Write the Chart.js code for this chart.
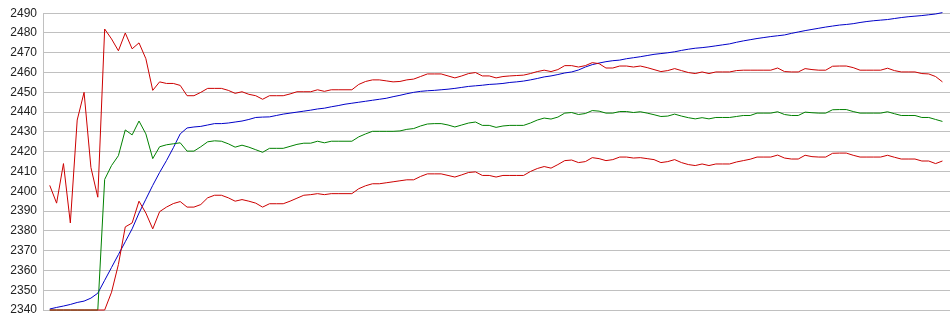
<!DOCTYPE html>
<html>
<head>
<meta charset="UTF-8">
<title>Bands</title>
<script src="https://cdn.jsdelivr.net/npm/chart.js"></script>
<style>
    html, body { margin: 0; padding: 0; background: #fff; }
    #wrap { width: 950px; height: 335px; }
</style>
</head>
<body>
<div id="wrap"><canvas id="chart"></canvas></div>
<script>
// y axis range and tick step
const yMin = 2340;
const yMax = 2490;
const yStep = 10;

// blue line (rising average)
const blueLine = [
    2340.5, 2341.3, 2342, 2342.8, 2343.8, 2344.5, 2346, 2348.5, 2355, 2361.5,
    2368, 2374.5, 2381, 2389, 2396, 2403, 2409.5, 2415.5, 2422, 2429,
    2432, 2432.5, 2432.8, 2433.5, 2434.2, 2434.2, 2434.5, 2435, 2435.5, 2436.3,
    2437.3, 2437.5, 2437.6, 2438.3, 2439, 2439.5, 2440, 2440.5, 2441, 2441.6,
    2442, 2442.7, 2443.3, 2444, 2444.5, 2445, 2445.5, 2446, 2446.5, 2447,
    2447.8, 2448.5, 2449.3, 2450, 2450.5, 2450.8, 2451, 2451.3, 2451.6, 2452,
    2452.5, 2453, 2453.3, 2453.6, 2454, 2454.2, 2454.5, 2455, 2455.3, 2455.7,
    2456.3, 2457, 2457.8, 2458.3, 2459, 2459.8, 2460.3, 2461.3, 2462.8, 2464,
    2464.8, 2465.5, 2466, 2466.3, 2467, 2467.5, 2468, 2468.6, 2469.2, 2469.6,
    2470, 2470.5, 2471.2, 2471.8, 2472.3, 2472.6, 2473, 2473.5, 2474, 2474.5,
    2475.3, 2476, 2476.6, 2477.2, 2477.7, 2478.2, 2478.6, 2479, 2479.8, 2480.5,
    2481.2, 2481.8, 2482.4, 2483, 2483.5, 2484, 2484.3, 2484.7, 2485.3, 2485.8,
    2486.2, 2486.5, 2486.8, 2487.3, 2487.8, 2488.2, 2488.5, 2488.8, 2489.2, 2489.6,
    2490.3
];

// upper red band
const upperBand = [
    2403, 2394, 2414, 2384, 2436, 2450, 2412, 2397, 2482, 2477,
    2471, 2480, 2472, 2475, 2467, 2451, 2455.3, 2454.5, 2454.5, 2453.5,
    2448.3, 2448.3, 2450, 2452, 2452, 2452, 2451, 2449.5, 2450.3, 2449,
    2448.3, 2446.5, 2448.3, 2448.3, 2448.3, 2449.2, 2450.3, 2450.3, 2450.3, 2451.3,
    2450.5, 2451.3, 2451.3, 2451.3, 2451.3, 2454, 2455.5, 2456.3, 2456.3, 2455.8,
    2455.3, 2455.5, 2456.3, 2456.7, 2458, 2459.3, 2459.3, 2459.3, 2458.3, 2457.3,
    2458.3, 2459.5, 2460, 2458.3, 2458.3, 2457.3, 2458, 2458.3, 2458.5, 2458.7,
    2459.5, 2460.5, 2461.2, 2460.5, 2461.5, 2463.5, 2463.5, 2462.8, 2463.5, 2465,
    2464.5, 2462.3, 2462.3, 2463.3, 2463.3, 2462.8, 2463.3, 2462.5, 2461.5, 2460.5,
    2461, 2462, 2461, 2460, 2459.5, 2460.3, 2459.5, 2460.3, 2460.3, 2460.3,
    2461, 2461.2, 2461.2, 2461.2, 2461.2, 2461.2, 2462.3, 2460.5, 2460.3, 2460.3,
    2462, 2461.5, 2461.2, 2461.2, 2463.2, 2463.3, 2463.3, 2462.5, 2461.2, 2461.2,
    2461.2, 2461.2, 2462.2, 2461, 2460.3, 2460.3, 2460.3, 2459.5, 2459.3, 2458,
    2455.3
];

// green middle line
const middleLine = [
    2340, 2340, 2340, 2340, 2340, 2340, 2340, 2340, 2406, 2413,
    2418, 2431, 2428.5, 2435.5, 2429, 2416.5, 2422.5, 2423.5, 2424, 2424.5,
    2420.3, 2420.3, 2422.5, 2425, 2425.5, 2425.3, 2424, 2422.3, 2423.3, 2422.3,
    2421, 2419.7, 2421.7, 2421.7, 2421.7, 2422.7, 2423.7, 2424.3, 2424.3, 2425.3,
    2424.5, 2425.3, 2425.3, 2425.3, 2425.3, 2427.5, 2429, 2430.3, 2430.3, 2430.3,
    2430.3, 2430.5, 2431.3, 2431.7, 2433, 2434, 2434.2, 2434.2, 2433.5, 2432.5,
    2433.5, 2434.5, 2435, 2433.3, 2433.3, 2432.3, 2433, 2433.3, 2433.3, 2433.3,
    2434.5, 2436, 2437, 2436.5, 2437.5, 2439.5, 2439.8, 2438.8, 2439.3, 2440.8,
    2440.5, 2439.5, 2439.5, 2440.3, 2440.3, 2439.8, 2440.2, 2439.5, 2438.7, 2437.8,
    2438, 2439, 2438, 2437.2, 2436.6, 2437.2, 2436.6, 2437.3, 2437.3, 2437.3,
    2437.8, 2438.3, 2438.3, 2439.5, 2439.5, 2439.5, 2440.2, 2438.8, 2438.3, 2438.3,
    2440, 2439.7, 2439.5, 2439.5, 2441.2, 2441.3, 2441.3, 2440.3, 2439.5, 2439.5,
    2439.5, 2439.5, 2440.2, 2439.2, 2438.3, 2438.3, 2438.3, 2437.3, 2437.3, 2436.3,
    2435.3
];

// lower red band
const lowerBand = [
    2340, 2340, 2340, 2340, 2340, 2340, 2340, 2340, 2340, 2349,
    2363, 2382, 2384, 2395, 2389, 2381, 2389.7, 2392, 2393.8, 2394.8,
    2392, 2392, 2393.3, 2396.7, 2398, 2398, 2396.7, 2395, 2395.8, 2395,
    2394, 2392, 2393.7, 2393.7, 2393.7, 2395, 2396.5, 2398, 2398.3, 2398.8,
    2398.3, 2398.8, 2398.8, 2398.8, 2398.8, 2401.3, 2402.8, 2403.8, 2403.8, 2404.3,
    2404.8, 2405.3, 2405.8, 2405.8, 2407.5, 2408.8, 2408.8, 2408.8, 2408, 2407.2,
    2408.3, 2409.5, 2409.8, 2408, 2408, 2407.2, 2408, 2408, 2408, 2408,
    2410, 2411.5, 2412.5, 2411.7, 2413.5, 2415.5, 2415.8, 2414.5, 2415, 2417,
    2416.5, 2415.5, 2416, 2417.3, 2417.3, 2416.8, 2417, 2416.5, 2416, 2414.5,
    2415, 2416, 2414.5, 2413.5, 2413, 2413.8, 2413, 2413.8, 2413.8, 2413.8,
    2414.8, 2415.5, 2416.2, 2417.3, 2417.3, 2417.3, 2418.3, 2416.8, 2416.3, 2416.3,
    2418.2, 2417.5, 2417.3, 2417.3, 2419.2, 2419.3, 2419.3, 2418.2, 2417.3, 2417.3,
    2417.3, 2417.3, 2418.2, 2417.2, 2416.3, 2416.3, 2416.3, 2415.3, 2415.3, 2414,
    2415.3
];

// one sample index per point
const steps = blueLine.map((_, i) => i);

const ctx = document.getElementById('chart').getContext('2d');

function lineSet(data, color) {
    return {
        data: data,
        borderColor: color,
        borderWidth: 1,
        pointRadius: 0,
        tension: 0,
        fill: false,
        clip: false
    };
}

new Chart(ctx, {
    type: 'line',
    data: {
        labels: steps,
        datasets: [
            lineSet(lowerBand, '#cc0000'),
            lineSet(upperBand, '#cc0000'),
            lineSet(middleLine, '#008000'),
            lineSet(blueLine, '#0000c8')
        ]
    },
    options: {
        responsive: true,
        maintainAspectRatio: false,
        animation: false,
        layout: { padding: { top: 10, bottom: 25, left: 0, right: 0 } },
        plugins: {
            legend: { display: false },
            tooltip: { enabled: false }
        },
        scales: {
            x: {
                type: 'linear',
                display: false,
                min: -0.98,
                max: 131.1
            },
            y: {
                min: yMin,
                max: yMax,
                afterFit: scale => { scale.width = 43; },
                border: { display: true, color: '#c0c0c0', width: 1 },
                grid: { color: '#c0c0c0', lineWidth: 1, drawTicks: false },
                ticks: {
                    stepSize: yStep,
                    padding: 6,
                    color: '#222',
                    font: { family: '"Liberation Sans", Arial, sans-serif', size: 12 },
                    callback: value => String(value)
                }
            }
        }
    }
});
</script>
</body>
</html>
